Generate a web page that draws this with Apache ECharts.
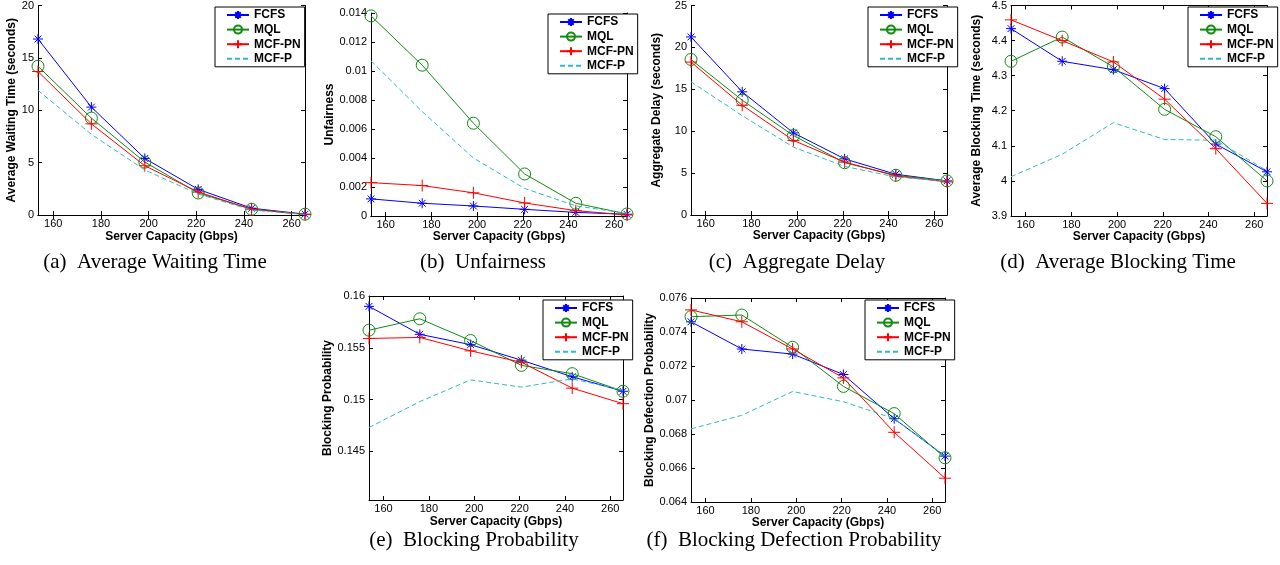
<!DOCTYPE html>
<html>
<head>
<meta charset="utf-8">
<script src="https://cdn.jsdelivr.net/npm/echarts@6/dist/echarts.min.js"></script>
<style>
  html, body { margin: 0; padding: 0; background: #fff; }
  #chart { width: 1280px; height: 565px; }
</style>
</head>
<body>
<div id="chart"></div>
<script>
// x values and tick labels
const capacity = [153.6, 176, 198.4, 220.8, 243.2, 265.6]
const xTicks = [160, 180, 200, 220, 240, 260]
const seriesNames = ['FCFS', 'MQL', 'MCF-PN', 'MCF-P']

// (a) average waiting time
const waitFCFS = [16.8, 10.3, 5.4, 2.45, 0.65, 0.08]
const waitMQL = [14.2, 9.25, 5.05, 2.1, 0.55, 0.08]
const waitPN = [13.7, 8.7, 4.7, 2.2, 0.55, 0.05]
const waitP = [11.9, 7.7, 4.3, 2.0, 0.47, 0.05]

// (b) unfairness
const unfairFCFS = [0.00118, 0.00088, 0.00069, 0.00046, 0.00025, 0.00012]
const unfairMQL = [0.0138, 0.0104, 0.0064, 0.0029, 0.00088, 0.00014]
const unfairPN = [0.0023, 0.0021, 0.0016, 0.0009, 0.00037, 0.00007]
const unfairP = [0.0107, 0.0072, 0.0040, 0.0019, 0.0007, 0.00018]

// (c) aggregate delay
const delayFCFS = [21.25, 14.7, 9.8, 6.7, 4.86, 4.07]
const delayMQL = [18.56, 13.7, 9.48, 6.24, 4.74, 4.07]
const delayPN = [18.25, 13.1, 8.9, 6.32, 4.66, 3.95]
const delayP = [15.9, 11.85, 8.1, 5.8, 4.54, 4.03]

// (d) average blocking time
const blockTimeFCFS = [4.434, 4.341, 4.317, 4.263, 4.105, 4.026]
const blockTimeMQL = [4.341, 4.41, 4.325, 4.204, 4.126, 4.0]
const blockTimePN = [4.459, 4.40, 4.339, 4.233, 4.092, 3.936]
const blockTimeP = [4.012, 4.076, 4.166, 4.118, 4.116, 4.029]

// (e) blocking probability
const blockProbFCFS = [0.1590, 0.1563, 0.1553, 0.1538, 0.1522, 0.1508]
const blockProbMQL = [0.1567, 0.1578, 0.1557, 0.1533, 0.1525, 0.1508]
const blockProbPN = [0.1559, 0.1560, 0.1547, 0.1536, 0.1511, 0.1496]
const blockProbP = [0.1473, 0.1498, 0.1519, 0.1512, 0.1520, 0.1509]
const blockProbTicks = [0.145, 0.15, 0.155, 0.16]

// (f) blocking defection probability
const defectFCFS = [0.0746, 0.0730, 0.0727, 0.0715, 0.0689, 0.0667]
const defectMQL = [0.0749, 0.0750, 0.0731, 0.0708, 0.0692, 0.0666]
const defectPN = [0.0753, 0.0746, 0.0730, 0.0713, 0.0681, 0.0654]
const defectP = [0.0683, 0.0691, 0.0705, 0.0699, 0.0689, 0.0667]

const sans = 'Liberation Sans, Arial, sans-serif'
const serif = 'Liberation Serif, Times New Roman, serif'

const panels = [
  { left: 38, top: 4, width: 267, height: 211, yMin: 0, yMax: 20, yInt: 5, yName: 'Average Waiting Time (seconds)', yGap: 17, xGap: 16,
    legend: [215, 7], caption: '(a)  Average Waiting Time', cap: [155, 262], data: [waitFCFS, waitMQL, waitPN, waitP] },
  { left: 371, top: 13, width: 256, height: 203, yMin: 0, yMax: 0.014, yInt: 0.002, yName: 'Unfairness', yGap: 32, xGap: 15,
    legend: [548, 14], caption: '(b)  Unfairness', cap: [483, 262], data: [unfairFCFS, unfairMQL, unfairPN, unfairP] },
  { left: 691, top: 4, width: 256, height: 211, yMin: 0, yMax: 25, yInt: 5, yName: 'Aggregate Delay (seconds)', yGap: 28, xGap: 15,
    legend: [868, 7], caption: '(c)  Aggregate Delay', cap: [797, 262], data: [delayFCFS, delayMQL, delayPN, delayP] },
  { left: 1011, top: 5, width: 256, height: 211, yMin: 3.9, yMax: 4.5, yInt: 0.1, yName: 'Average Blocking Time (seconds)', yGap: 28, xGap: 15,
    legend: [1188, 7], caption: '(d)  Average Blocking Time', cap: [1118, 262], data: [blockTimeFCFS, blockTimeMQL, blockTimePN, blockTimeP] },
  { left: 369, top: 296, width: 254, height: 204, yMin: 0.1403, yMax: 0.16, yTicks: blockProbTicks, yName: 'Blocking Probability', yGap: 33, xGap: 16,
    legend: [543, 300], caption: '(e)  Blocking Probability', cap: [474, 540], data: [blockProbFCFS, blockProbMQL, blockProbPN, blockProbP] },
  { left: 691, top: 298, width: 254, height: 204, yMin: 0.064, yMax: 0.076, yInt: 0.002, yName: 'Blocking Defection Probability', yGap: 35, xGap: 14,
    legend: [865, 300], caption: '(f)  Blocking Defection Probability', cap: [794, 540], data: [defectFCFS, defectMQL, defectPN, defectP] }
]

// look of each series (FCFS, MQL, MCF-PN, MCF-P)
const styles = [
  { color: '#0000ff', symbol: 'path://M5 0L5 10M0 5L10 5M1.6 1.6L8.4 8.4M8.4 1.6L1.6 8.4', size: 10 },
  { color: '#118c11', symbol: 'circle', size: 12, hollow: true },
  { color: '#ff0000', symbol: 'path://M5 0L5 10M0 5L10 5', size: 12 },
  { color: '#2cbcc2', symbol: 'circle', size: 0, dashed: true, noMarker: true }
]

const axisLine = { show: true, lineStyle: { color: '#000', width: 1 } }
const axisTick = { show: true, inside: true, length: 4, lineStyle: { color: '#000' } }

// legend entries; the dashed one has no marker
const legendData = seriesNames.map((n, k) => styles[k].noMarker
  ? { name: n, itemStyle: { color: 'rgba(0,0,0,0)', borderColor: 'rgba(0,0,0,0)', borderWidth: 0 } }
  : { name: n })

const grid = []
const xAxis = []
const yAxis = []
const legend = []
const series = []
const graphic = []

panels.forEach((p, i) => {
  grid.push({ left: p.left, top: p.top, width: p.width, height: p.height, containLabel: false })

  const xBase = {
    type: 'value', gridIndex: i, min: capacity[0], max: capacity[capacity.length - 1],
    axisLine: axisLine, splitLine: { show: false }
  }
  xAxis.push(Object.assign({}, xBase, {
    position: 'bottom',
    name: 'Server Capacity (Gbps)', nameLocation: 'middle', nameGap: p.xGap,
    nameTextStyle: { fontFamily: sans, fontSize: 12, fontWeight: 'bold', color: '#000' },
    axisTick: Object.assign({ customValues: xTicks }, axisTick),
    axisLabel: { customValues: xTicks, margin: 3, fontFamily: sans, fontSize: 11, color: '#000' }
  }))
  xAxis.push(Object.assign({}, xBase, {
    position: 'top',
    axisTick: Object.assign({ customValues: xTicks }, axisTick),
    axisLabel: { show: false }
  }))

  const yBase = { type: 'value', gridIndex: i, min: p.yMin, max: p.yMax, axisLine: axisLine, splitLine: { show: false } }
  if (p.yInt) yBase.interval = p.yInt
  const yTick = p.yTicks ? Object.assign({ customValues: p.yTicks }, axisTick) : axisTick
  const yLabel = { margin: 4, fontFamily: sans, fontSize: 11, color: '#000' }
  if (p.yTicks) yLabel.customValues = p.yTicks
  yAxis.push(Object.assign({}, yBase, {
    position: 'left',
    name: p.yName, nameLocation: 'middle', nameGap: p.yGap, nameRotate: 90,
    nameTextStyle: { fontFamily: sans, fontSize: 12, fontWeight: 'bold', color: '#000' },
    axisTick: yTick, axisLabel: yLabel
  }))
  yAxis.push(Object.assign({}, yBase, {
    position: 'right', axisTick: yTick, axisLabel: { show: false }
  }))

  legend.push({
    data: legendData, orient: 'vertical', left: p.legend[0], top: p.legend[1],
    backgroundColor: '#fff', borderColor: '#000', borderWidth: 1,
    padding: [1, 4, 1, 11], itemWidth: 22, itemHeight: 10, itemGap: 0.6,
    selectedMode: false,
    textStyle: { fontFamily: sans, fontSize: 12, fontWeight: 'bold', color: '#000', lineHeight: 14 }
  })

  p.data.forEach((vals, k) => {
    const s = styles[k]
    series.push({
      name: seriesNames[k], type: 'line', xAxisIndex: i * 2, yAxisIndex: i * 2,
      data: vals.map((v, j) => [capacity[j], v]),
      symbol: s.symbol, symbolSize: s.size, showSymbol: !s.noMarker, showAllSymbol: true,
      lineStyle: { color: s.color, width: 1, type: s.dashed ? [5, 3] : 'solid' },
      itemStyle: { color: s.hollow ? 'rgba(0,0,0,0)' : s.color, borderColor: s.color, borderWidth: 1 },
      emphasis: { disabled: true },
      clip: false,
      z: 2 + k
    })
  })

  graphic.push({
    type: 'text', x: p.cap[0], y: p.cap[1],
    style: { text: p.caption, font: '21px ' + serif, fill: '#000', textAlign: 'center', textVerticalAlign: 'middle' }
  })
})

const chart = echarts.init(document.getElementById('chart'))
chart.setOption({
  animation: false,
  backgroundColor: '#fff',
  grid: grid,
  xAxis: xAxis,
  yAxis: yAxis,
  legend: legend,
  series: series,
  graphic: graphic
})
</script>
</body>
</html>
